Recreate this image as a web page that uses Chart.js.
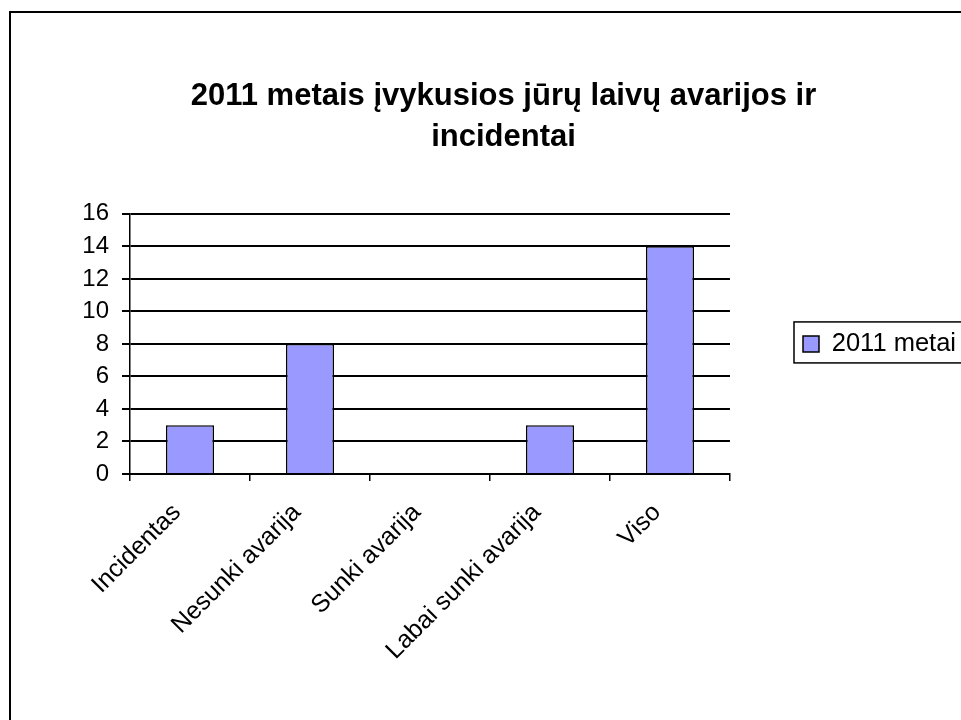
<!DOCTYPE html>
<html>
<head>
<meta charset="utf-8">
<script src="https://cdn.jsdelivr.net/npm/chart.js@4"></script>
<style>
  html, body { margin: 0; padding: 0; background: #fff; }
</style>
</head>
<body>
<canvas id="barChart" width="961" height="720"></canvas>
<script>
// chart data
var categories = ["Incidentas", "Nesunki avarija", "Sunki avarija", "Labai sunki avarija", "Viso"];
var values2011 = [3, 8, 0, 3, 14];
var seriesName = "2011 metai";
var titleLines = ["2011 metais įvykusios jūrų laivų avarijos ir", "incidentai"];
var yMin = 0, yMax = 16, yStep = 2;

var FONT = "'Liberation Sans', Arial, sans-serif";

// outer frame + box around the legend
var framePlugin = {
  id: 'frames',
  beforeDraw: function(chart) {
    var ctx = chart.ctx;
    ctx.save();
    ctx.fillStyle = '#fff';
    ctx.fillRect(0, 0, chart.width, chart.height);
    ctx.strokeStyle = '#000';
    ctx.lineWidth = 2;
    ctx.strokeRect(10, 12, 1100, 1000);
    ctx.restore();
  },
  afterDraw: function(chart) {
    var hb = chart.legend.legendHitBoxes && chart.legend.legendHitBoxes[0];
    if (!hb) return;
    var ctx = chart.ctx;
    var cy = hb.top + hb.height / 2;
    ctx.save();
    ctx.strokeStyle = '#000';
    ctx.lineWidth = 1.5;
    ctx.strokeRect(hb.left - 9, cy - 22, 400, 41);
    ctx.restore();
  }
};

var data = {
  labels: categories,
  datasets: [{
    label: seriesName,
    data: values2011,
    backgroundColor: '#9999FF',
    borderColor: '#000',
    borderWidth: 1.5,
    barPercentage: 0.4,
    categoryPercentage: 1.0
  }]
};

var config = {
  type: 'bar',
  data: data,
  plugins: [framePlugin],
  options: {
    responsive: false,
    animation: false,
    layout: { padding: { left: 46, top: 0, right: 0, bottom: 0 } },
    plugins: {
      title: {
        display: true,
        text: titleLines,
        color: '#000',
        font: { family: FONT, size: 31, weight: 'bold', lineHeight: 1.32 },
        padding: { top: 76, bottom: 56 }
      },
      legend: {
        position: 'right',
        fullSize: false,
        align: 'center',
        maxWidth: 231,
        labels: {
          boxWidth: 16,
          boxHeight: 16,
          padding: 73,
          color: '#000',
          font: { family: FONT, size: 25.5 }
        }
      },
      tooltip: { enabled: false }
    },
    scales: {
      x: {
        offset: true,
        grid: { offset: true, drawOnChartArea: false, color: '#000', lineWidth: 1.5, tickLength: 7 },
        border: { color: '#000', width: 2 },
        ticks: { minRotation: 45, maxRotation: 45, padding: 17, labelOffset: -13, color: '#000', font: { family: FONT, size: 25 } },
        afterFit: function(scale) { scale.height = 246; }
      },
      y: {
        min: yMin,
        max: yMax,
        ticks: { stepSize: yStep, color: '#000', padding: 13, font: { family: FONT, size: 24 } },
        grid: { color: '#000', lineWidth: 2, tickLength: 8 },
        border: { color: '#000', width: 1.5 },
        afterFit: function(scale) { scale.width = 84; }
      }
    }
  }
};

var ctx = document.getElementById('barChart').getContext('2d');
new Chart(ctx, config);
</script>
</body>
</html>
